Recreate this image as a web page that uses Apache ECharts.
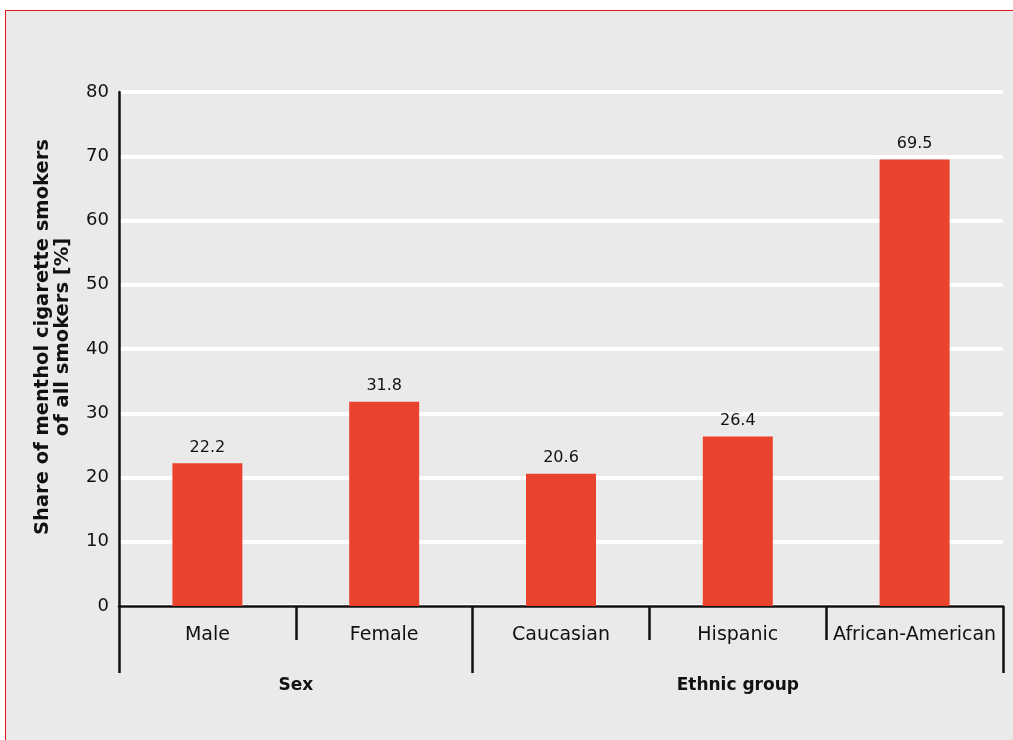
<!DOCTYPE html>
<html><head><meta charset="utf-8">
<script src="https://cdn.jsdelivr.net/npm/echarts@6/dist/echarts.min.js"></script>
<style>
html,body{margin:0;padding:0;background:#fff;overflow:hidden;}
#panel{position:absolute;left:5px;top:10px;width:1100px;height:800px;background:#eaeaea;border:1.5px solid #e8141e;box-sizing:border-box;}
#chart{position:absolute;left:0;top:0;width:1013px;height:740px;}
</style></head>
<body>
<div id="panel"></div>
<div id="chart"></div>
<script>
const categories = ['Male', 'Female', 'Caucasian', 'Hispanic', 'African-American'];
const values = [22.2, 31.8, 20.6, 26.4, 69.5];
const groupNames = ['Sex', 'Ethnic group'];
const groupSizes = [2, 3];
const yTicks = [0, 10, 20, 30, 40, 50, 60, 70, 80];
const yTitle = 'Share of menthol cigarette smokers\nof all smokers [%]';

// group boundaries and centres in category units
const bounds = [0];
groupSizes.forEach(s => bounds.push(bounds[bounds.length - 1] + s));
const centres = groupSizes.map((s, i) => bounds[i] + s / 2);

const FONT = '"DejaVu Sans", Verdana, sans-serif';
const chart = echarts.init(document.getElementById('chart'), null, {renderer: 'canvas'});
chart.setOption({
  backgroundColor: 'transparent',
  animation: false,
  grid: {left: 119, right: 10, top: 92, bottom: 134, containLabel: false},
  xAxis: [{
    type: 'category',
    data: categories,
    axisLine: {show: true, lineStyle: {color: '#111', width: 2.5}},
    axisTick: {show: true, length: 34, lineStyle: {color: '#111', width: 2.5}},
    axisLabel: {color: '#111', fontFamily: FONT, fontSize: 19, margin: 20, interval: 0}
  }, {
    type: 'value',
    position: 'bottom',
    min: 0, max: categories.length,
    axisLine: {show: false},
    splitLine: {show: false},
    axisTick: {show: true, length: 67, customValues: bounds, lineStyle: {color: '#111', width: 2.5}},
    axisLabel: {
      customValues: centres,
      color: '#111', fontFamily: FONT, fontSize: 17, fontWeight: 'bold', margin: 71,
      formatter: v => { const i = centres.indexOf(v); return i >= 0 ? groupNames[i] : ''; }
    }
  }],
  yAxis: {
    type: 'value',
    min: yTicks[0], max: yTicks[yTicks.length - 1], interval: 10,
    name: yTitle,
    nameLocation: 'middle',
    nameGap: 46,
    nameTextStyle: {color: '#111', fontFamily: FONT, fontSize: 19.5, fontWeight: 'bold', lineHeight: 20, align: 'center', padding: [0, 0, 0, 24]},
    axisLine: {show: true, lineStyle: {color: '#111', width: 2.5}},
    axisTick: {show: false},
    axisLabel: {color: '#111', fontFamily: FONT, fontSize: 18, margin: 10},
    splitLine: {show: true, lineStyle: {color: '#ffffff', width: 4}}
  },
  series: [{
    type: 'bar',
    data: values,
    barWidth: 70,
    itemStyle: {color: '#e9432e'},
    label: {show: true, position: 'top', distance: 8, color: '#111', fontFamily: FONT, fontSize: 16,
      formatter: p => p.value.toFixed(1)}
  }]
});
</script>
</body></html>
